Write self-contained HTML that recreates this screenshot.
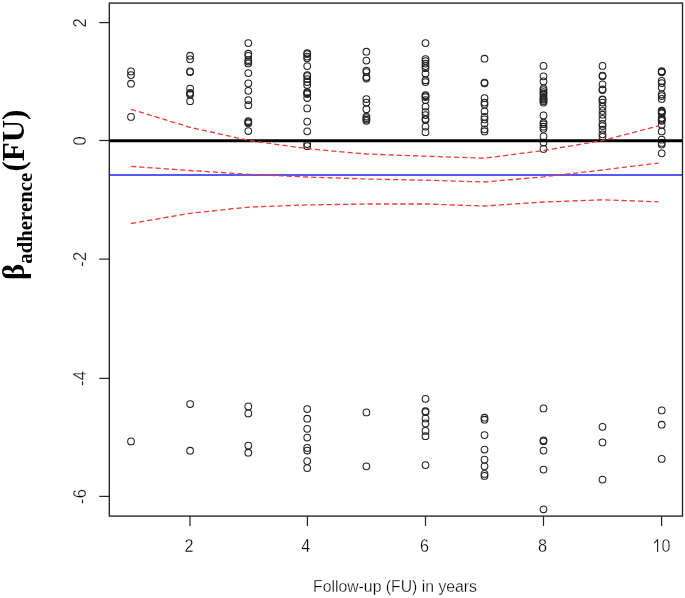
<!DOCTYPE html>
<html><head><meta charset="utf-8"><style>
html,body{margin:0;padding:0;background:#fff;}
svg{display:block;will-change:transform;}
text{font-family:"Liberation Sans",sans-serif;}
</style></head><body>
<svg width="685" height="598" viewBox="0 0 685 598">
<rect width="685" height="598" fill="#fff"/>
<g fill="none" stroke="#222" stroke-width="1.05"><circle cx="131.0" cy="71.4" r="3.35"/><circle cx="131.0" cy="75.1" r="3.35"/><circle cx="131.0" cy="83.7" r="3.35"/><circle cx="131.0" cy="116.9" r="3.35"/><circle cx="131.0" cy="441.4" r="3.35"/><circle cx="190.1" cy="55.7" r="3.35"/><circle cx="190.1" cy="59.3" r="3.35"/><circle cx="190.1" cy="71.4" r="3.35"/><circle cx="190.1" cy="72.0" r="3.35"/><circle cx="190.1" cy="88.6" r="3.35"/><circle cx="190.1" cy="92.8" r="3.35"/><circle cx="190.1" cy="93.8" r="3.35"/><circle cx="190.1" cy="94.6" r="3.35"/><circle cx="190.1" cy="101.2" r="3.35"/><circle cx="190.1" cy="404.0" r="3.35"/><circle cx="190.1" cy="450.7" r="3.35"/><circle cx="248.3" cy="43.1" r="3.35"/><circle cx="248.3" cy="53.7" r="3.35"/><circle cx="248.3" cy="55.8" r="3.35"/><circle cx="248.3" cy="60.0" r="3.35"/><circle cx="248.3" cy="61.5" r="3.35"/><circle cx="248.3" cy="63.4" r="3.35"/><circle cx="248.3" cy="73.1" r="3.35"/><circle cx="248.3" cy="83.4" r="3.35"/><circle cx="248.3" cy="90.8" r="3.35"/><circle cx="248.3" cy="100.1" r="3.35"/><circle cx="248.3" cy="105.2" r="3.35"/><circle cx="248.3" cy="121.0" r="3.35"/><circle cx="248.3" cy="122.2" r="3.35"/><circle cx="248.3" cy="123.3" r="3.35"/><circle cx="248.3" cy="131.0" r="3.35"/><circle cx="248.3" cy="406.4" r="3.35"/><circle cx="248.3" cy="413.4" r="3.35"/><circle cx="248.3" cy="445.6" r="3.35"/><circle cx="248.3" cy="452.7" r="3.35"/><circle cx="307.2" cy="53.2" r="3.35"/><circle cx="307.2" cy="54.0" r="3.35"/><circle cx="307.2" cy="56.6" r="3.35"/><circle cx="307.2" cy="58.3" r="3.35"/><circle cx="307.2" cy="66.1" r="3.35"/><circle cx="307.2" cy="75.0" r="3.35"/><circle cx="307.2" cy="76.0" r="3.35"/><circle cx="307.2" cy="79.0" r="3.35"/><circle cx="307.2" cy="82.0" r="3.35"/><circle cx="307.2" cy="85.0" r="3.35"/><circle cx="307.2" cy="92.2" r="3.35"/><circle cx="307.2" cy="93.2" r="3.35"/><circle cx="307.2" cy="94.0" r="3.35"/><circle cx="307.2" cy="98.0" r="3.35"/><circle cx="307.2" cy="108.4" r="3.35"/><circle cx="307.2" cy="121.6" r="3.35"/><circle cx="307.2" cy="131.3" r="3.35"/><circle cx="307.2" cy="144.1" r="3.35"/><circle cx="307.2" cy="146.2" r="3.35"/><circle cx="307.2" cy="409.0" r="3.35"/><circle cx="307.2" cy="418.7" r="3.35"/><circle cx="307.2" cy="428.8" r="3.35"/><circle cx="307.2" cy="437.5" r="3.35"/><circle cx="307.2" cy="447.9" r="3.35"/><circle cx="307.2" cy="450.5" r="3.35"/><circle cx="307.2" cy="461.1" r="3.35"/><circle cx="307.2" cy="468.1" r="3.35"/><circle cx="366.4" cy="51.7" r="3.35"/><circle cx="366.4" cy="60.5" r="3.35"/><circle cx="366.4" cy="70.5" r="3.35"/><circle cx="366.4" cy="72.0" r="3.35"/><circle cx="366.4" cy="77.0" r="3.35"/><circle cx="366.4" cy="78.5" r="3.35"/><circle cx="366.4" cy="99.0" r="3.35"/><circle cx="366.4" cy="102.6" r="3.35"/><circle cx="366.4" cy="109.2" r="3.35"/><circle cx="366.4" cy="116.5" r="3.35"/><circle cx="366.4" cy="118.0" r="3.35"/><circle cx="366.4" cy="119.5" r="3.35"/><circle cx="366.4" cy="120.8" r="3.35"/><circle cx="366.4" cy="412.4" r="3.35"/><circle cx="366.4" cy="466.3" r="3.35"/><circle cx="425.5" cy="43.1" r="3.35"/><circle cx="425.5" cy="59.0" r="3.35"/><circle cx="425.5" cy="61.1" r="3.35"/><circle cx="425.5" cy="63.6" r="3.35"/><circle cx="425.5" cy="66.1" r="3.35"/><circle cx="425.5" cy="68.2" r="3.35"/><circle cx="425.5" cy="73.5" r="3.35"/><circle cx="425.5" cy="80.2" r="3.35"/><circle cx="425.5" cy="82.0" r="3.35"/><circle cx="425.5" cy="95.0" r="3.35"/><circle cx="425.5" cy="96.0" r="3.35"/><circle cx="425.5" cy="97.0" r="3.35"/><circle cx="425.5" cy="100.0" r="3.35"/><circle cx="425.5" cy="106.6" r="3.35"/><circle cx="425.5" cy="112.1" r="3.35"/><circle cx="425.5" cy="115.1" r="3.35"/><circle cx="425.5" cy="119.0" r="3.35"/><circle cx="425.5" cy="120.0" r="3.35"/><circle cx="425.5" cy="126.6" r="3.35"/><circle cx="425.5" cy="132.2" r="3.35"/><circle cx="425.5" cy="398.8" r="3.35"/><circle cx="425.5" cy="411.2" r="3.35"/><circle cx="425.5" cy="412.0" r="3.35"/><circle cx="425.5" cy="418.4" r="3.35"/><circle cx="425.5" cy="423.4" r="3.35"/><circle cx="425.5" cy="430.9" r="3.35"/><circle cx="425.5" cy="436.2" r="3.35"/><circle cx="425.5" cy="465.1" r="3.35"/><circle cx="484.5" cy="58.7" r="3.35"/><circle cx="484.5" cy="82.5" r="3.35"/><circle cx="484.5" cy="83.3" r="3.35"/><circle cx="484.5" cy="98.1" r="3.35"/><circle cx="484.5" cy="102.6" r="3.35"/><circle cx="484.5" cy="104.6" r="3.35"/><circle cx="484.5" cy="111.3" r="3.35"/><circle cx="484.5" cy="116.8" r="3.35"/><circle cx="484.5" cy="119.3" r="3.35"/><circle cx="484.5" cy="123.5" r="3.35"/><circle cx="484.5" cy="129.3" r="3.35"/><circle cx="484.5" cy="131.4" r="3.35"/><circle cx="484.5" cy="417.7" r="3.35"/><circle cx="484.5" cy="419.7" r="3.35"/><circle cx="484.5" cy="435.1" r="3.35"/><circle cx="484.5" cy="449.5" r="3.35"/><circle cx="484.5" cy="459.6" r="3.35"/><circle cx="484.5" cy="466.3" r="3.35"/><circle cx="484.5" cy="473.9" r="3.35"/><circle cx="484.5" cy="475.9" r="3.35"/><circle cx="543.5" cy="65.9" r="3.35"/><circle cx="543.5" cy="76.3" r="3.35"/><circle cx="543.5" cy="81.4" r="3.35"/><circle cx="543.5" cy="88.3" r="3.35"/><circle cx="543.5" cy="90.0" r="3.35"/><circle cx="543.5" cy="92.0" r="3.35"/><circle cx="543.5" cy="93.5" r="3.35"/><circle cx="543.5" cy="95.0" r="3.35"/><circle cx="543.5" cy="97.5" r="3.35"/><circle cx="543.5" cy="98.5" r="3.35"/><circle cx="543.5" cy="99.5" r="3.35"/><circle cx="543.5" cy="101.0" r="3.35"/><circle cx="543.5" cy="102.6" r="3.35"/><circle cx="543.5" cy="115.4" r="3.35"/><circle cx="543.5" cy="122.6" r="3.35"/><circle cx="543.5" cy="124.2" r="3.35"/><circle cx="543.5" cy="126.7" r="3.35"/><circle cx="543.5" cy="128.8" r="3.35"/><circle cx="543.5" cy="136.4" r="3.35"/><circle cx="543.5" cy="142.6" r="3.35"/><circle cx="543.5" cy="148.9" r="3.35"/><circle cx="543.5" cy="408.4" r="3.35"/><circle cx="543.5" cy="440.3" r="3.35"/><circle cx="543.5" cy="441.2" r="3.35"/><circle cx="543.5" cy="450.6" r="3.35"/><circle cx="543.5" cy="469.6" r="3.35"/><circle cx="543.5" cy="509.3" r="3.35"/><circle cx="602.5" cy="65.9" r="3.35"/><circle cx="602.5" cy="75.5" r="3.35"/><circle cx="602.5" cy="76.3" r="3.35"/><circle cx="602.5" cy="84.3" r="3.35"/><circle cx="602.5" cy="89.3" r="3.35"/><circle cx="602.5" cy="90.1" r="3.35"/><circle cx="602.5" cy="99.4" r="3.35"/><circle cx="602.5" cy="99.8" r="3.35"/><circle cx="602.5" cy="102.5" r="3.35"/><circle cx="602.5" cy="106.7" r="3.35"/><circle cx="602.5" cy="110.9" r="3.35"/><circle cx="602.5" cy="114.7" r="3.35"/><circle cx="602.5" cy="118.8" r="3.35"/><circle cx="602.5" cy="123.9" r="3.35"/><circle cx="602.5" cy="126.0" r="3.35"/><circle cx="602.5" cy="129.7" r="3.35"/><circle cx="602.5" cy="134.3" r="3.35"/><circle cx="602.5" cy="136.8" r="3.35"/><circle cx="602.5" cy="426.8" r="3.35"/><circle cx="602.5" cy="442.4" r="3.35"/><circle cx="602.5" cy="479.6" r="3.35"/><circle cx="661.7" cy="71.2" r="3.35"/><circle cx="661.7" cy="71.8" r="3.35"/><circle cx="661.7" cy="72.3" r="3.35"/><circle cx="661.7" cy="80.9" r="3.35"/><circle cx="661.7" cy="83.0" r="3.35"/><circle cx="661.7" cy="87.6" r="3.35"/><circle cx="661.7" cy="94.3" r="3.35"/><circle cx="661.7" cy="96.0" r="3.35"/><circle cx="661.7" cy="98.9" r="3.35"/><circle cx="661.7" cy="110.7" r="3.35"/><circle cx="661.7" cy="111.5" r="3.35"/><circle cx="661.7" cy="112.3" r="3.35"/><circle cx="661.7" cy="113.2" r="3.35"/><circle cx="661.7" cy="117.8" r="3.35"/><circle cx="661.7" cy="118.8" r="3.35"/><circle cx="661.7" cy="119.8" r="3.35"/><circle cx="661.7" cy="120.8" r="3.35"/><circle cx="661.7" cy="124.8" r="3.35"/><circle cx="661.7" cy="131.5" r="3.35"/><circle cx="661.7" cy="139.7" r="3.35"/><circle cx="661.7" cy="142.9" r="3.35"/><circle cx="661.7" cy="144.6" r="3.35"/><circle cx="661.7" cy="153.3" r="3.35"/><circle cx="661.7" cy="410.4" r="3.35"/><circle cx="661.7" cy="424.7" r="3.35"/><circle cx="661.7" cy="458.9" r="3.35"/></g>
<line x1="109" y1="140.7" x2="682.5" y2="140.7" stroke="#000" stroke-width="3"/>
<line x1="109" y1="175" x2="682.5" y2="175" stroke="#2020f0" stroke-width="1.4"/>
<g fill="none" stroke="#e93c40" stroke-width="1.3" stroke-dasharray="5.3 2.9">
<polyline points="131.0,109.3 190.0,127.3 248.9,140.5 307.4,148.7 366.4,154.0 425.5,156.2 484.5,158.2 543.5,150.5 602.5,140.6 658.6,125.8"/>
<polyline points="131.0,166.4 190.0,170.5 248.9,174.3 307.4,177.0 366.4,179.0 425.5,180.2 484.5,182.0 543.5,176.8 602.5,170.0 658.6,163.1"/>
<polyline points="131.0,223.5 190.0,213.3 248.9,207.1 307.4,204.9 366.4,204.0 425.5,204.0 484.5,206.0 543.5,202.0 602.5,199.8 658.6,201.8"/>
</g>
<rect x="109.3" y="3.1" width="573.2" height="513" fill="none" stroke="#222" stroke-width="1.35"/>
<g stroke="#222" stroke-width="1.2"><line x1="190.0" y1="516" x2="190.0" y2="525.9"/><line x1="307.4" y1="516" x2="307.4" y2="525.9"/><line x1="425.5" y1="516" x2="425.5" y2="525.9"/><line x1="543.5" y1="516" x2="543.5" y2="525.9"/><line x1="661.6" y1="516" x2="661.6" y2="525.9"/><line x1="99.3" y1="22.6" x2="109.2" y2="22.6"/><line x1="99.3" y1="140.5" x2="109.2" y2="140.5"/><line x1="99.3" y1="259.1" x2="109.2" y2="259.1"/><line x1="99.3" y1="378.4" x2="109.2" y2="378.4"/><line x1="99.3" y1="496.4" x2="109.2" y2="496.4"/></g>
<g stroke="#222" stroke-width="1.2"><line x1="82.5" y1="262.1" x2="82.5" y2="266.0"/><line x1="82.5" y1="381.4" x2="82.5" y2="385.3"/><line x1="82.5" y1="499.4" x2="82.5" y2="503.3"/></g>
<g font-size="18" fill="#000" stroke="#fff" stroke-width="0.3"><text transform="translate(189.1,552) scale(0.9,1)" text-anchor="middle">2</text><text transform="translate(305.7,552) scale(0.9,1)" text-anchor="middle">4</text><text transform="translate(424.6,552) scale(0.9,1)" text-anchor="middle">6</text><text transform="translate(542.6,552) scale(0.9,1)" text-anchor="middle">8</text><text transform="translate(661.6,552) scale(0.9,1)">0</text><text transform="translate(85.9,22.9) rotate(-90) scale(0.92,1)" text-anchor="middle">2</text><text transform="translate(85.9,140.8) rotate(-90) scale(0.92,1)" text-anchor="middle">0</text><text transform="translate(85.9,256.4) rotate(-90) scale(0.92,1)" text-anchor="middle">2</text><text transform="translate(85.9,375.7) rotate(-90) scale(0.92,1)" text-anchor="middle">4</text><text transform="translate(85.9,493.7) rotate(-90) scale(0.92,1)" text-anchor="middle">6</text></g>
<path d="M657.6,539.3 V552 M657.6,539.6 L654.2,543.2" fill="none" stroke="#222" stroke-width="1.15"/>
<text x="313.0" y="592.3" font-size="17.2" fill="#000" stroke="#fff" stroke-width="0.3" textLength="164" lengthAdjust="spacingAndGlyphs">Follow-up (FU) in years</text>
<g transform="translate(24,280) rotate(-90)" font-family="Liberation Serif" font-weight="bold" fill="#000">
<text x="0" y="0" font-size="31" style="font-family:'Liberation Serif',serif">&#946;<tspan font-size="20.8" dy="8">adherence</tspan><tspan dy="-8" dx="1.2">(FU)</tspan></text>
</g>
</svg>
</body></html>
